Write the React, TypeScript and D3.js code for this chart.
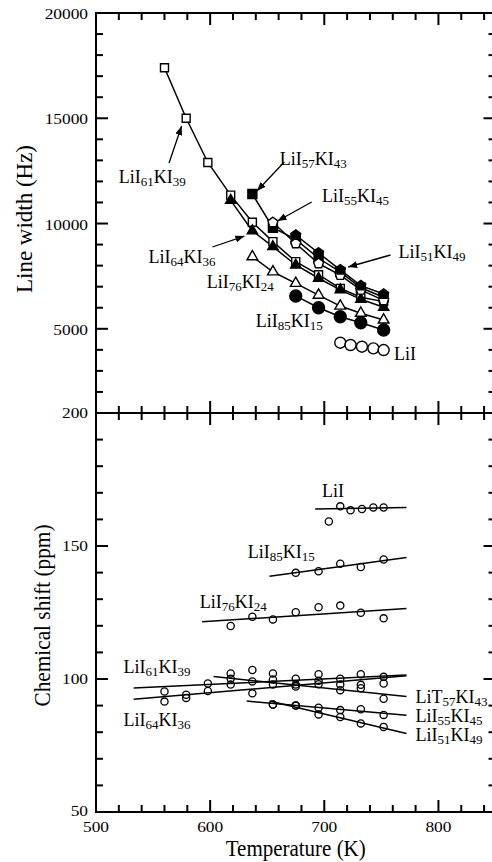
import React from 'react';
import * as d3 from 'd3';

const W = 492;
const H = 862;

// temperatures (K)
const temps = [560, 579, 598, 618, 637, 655, 675, 695, 714, 732, 752];
const tLiI = [714, 723, 733, 743, 752];
const tLiIcs = [704, 714, 723, 733, 743, 752];

// line width (Hz)
const lwLiI61KI39 = [17400, 15000, 12900, 11350, 10060, 9140, 8190, 7570, 6920, 6500, 6290];
const lwLiI64KI36 = [11100, 9650, 8900, 8030, 7400, 6850, 6400, 6020];
const lwLiI57KI43 = [11400, 9800, 9250, 8350, 7700, 6950, 6500];
const lwLiI55KI45 = [10050, 9050, 8100, 7550, 6850, 6350];
const lwLiI51KI49 = [9450, 8600, 7800, 7050, 6650];
const lwLiI76KI24 = [8425, 7710, 7160, 6600, 6080, 5740, 5420];
const lwLiI85KI15 = [6560, 6000, 5570, 5290, 4940];
const lwLiI = [4340, 4230, 4150, 4070, 3990];

// chemical shift (ppm)
const csLiI = [159.2, 164.9, 163.4, 163.9, 164.5, 164.5];
const csLiI85KI15 = [139.9, 140.5, 143.3, 142.1, 144.9];
const csLiI76KI24 = [119.9, 123.4, 122.4, 125.1, 127.0, 127.6, 124.9, 122.8];
const csLiI61KI39 = [95.3, 94.1, 98.3, 97.9, 99.1, 97.9, 97.9, 99.3, 100.1, 101.8, 100.8];
const csLiI64KI36 = [91.5, 92.9, 95.5, 100.1, 94.6, 99.8, 97.2, 98.0, 97.9, 97.8, 98.3];
const csLiT57KI43 = [102.1, 103.4, 102.1, 100.1, 101.8, 95.8, 96.5, 92.6];
const csLiI55KI45 = [90.4, 90.0, 89.2, 88.3, 88.6, 86.5];
const csLiI51KI49 = [90.4, 90.0, 86.7, 85.7, 83.3, 82.0];

// fitted straight lines: [start, end]
const fitLiI = { t: [692, 772], v: [163.9, 164.5] };
const fitLiI85KI15 = { t: [652, 772], v: [138.6, 145.7] };
const fitLiI76KI24 = { t: [593, 772], v: [121.5, 126.5] };
const fitLiI61KI39 = { t: [533, 772], v: [96.6, 101.5] };
const fitLiI64KI36 = { t: [533, 772], v: [92.4, 101.2] };
const fitLiT57KI43 = { t: [603, 772], v: [100.9, 93.4] };
const fitLiI55KI45 = { t: [632, 772], v: [91.7, 86.4] };
const fitLiI51KI49 = { t: [652, 772], v: [91.7, 79.5] };

// tick labels
const xTickLabels = [500, 600, 700, 800];
const lwTickLabels = [5000, 10000, 15000, 20000];
const csTickLabels = [50, 100, 150, 200];

// annotations, top panel
const lwLabels = ['LiI61KI39', 'LiI57KI43', 'LiI55KI45', 'LiI64KI36', 'LiI51KI49', 'LiI76KI24', 'LiI85KI15', 'LiI'];
const lwLabelT = [520, 661, 698, 546, 765, 597, 640, 761];
const lwLabelV = [11925, 12780, 11020, 8125, 8360, 6940, 5085, 3520];
const arrowFromT = [564, 665, 689, 602, 758];
const arrowFromV = [12875, 12920, 11020, 8885, 8505];
const arrowToT = [575, 641, 659, 630, 721];
const arrowToV = [14630, 11545, 10120, 9407, 7935];

// annotations, bottom panel
const csLabels = ['LiI', 'LiI85KI15', 'LiI76KI24', 'LiI61KI39', 'LiI64KI36', 'LiT57KI43', 'LiI55KI45', 'LiI51KI49'];
const csLabelT = [698, 633, 591, 524, 524, 780, 780, 780];
const csLabelV = [168.4, 145.5, 126.7, 102.3, 82.4, 91.0, 83.8, 76.7];

const FONT = 'Liberation Serif, Times New Roman, serif';

const symbolPentagon = {
  draw(ctx: any, size: number) {
    const r = Math.sqrt(size) * 0.62;
    for (let k = 0; k < 5; k++) {
      const a = -Math.PI / 2 + (k * 2 * Math.PI) / 5;
      const px = r * Math.cos(a);
      const py = r * Math.sin(a);
      if (k === 0) ctx.moveTo(px, py);
      else ctx.lineTo(px, py);
    }
    ctx.closePath();
  },
};

const x = d3.scaleLinear().domain([500, 850]).range([96, 495.5]);
const yLw = d3.scaleLinear().domain([1000, 20000]).range([413, 13]);
const yCs = d3.scaleLinear().domain([50, 200]).range([812, 413]);

const Chem = ({ s, x0, y0, size = 18 }: { s: string; x0: number; y0: number; size?: number }) => {
  const parts = Array.from(s.matchAll(/([A-Za-z]+)(\d*)/g));
  const sub = Math.round(size * 0.7);
  return (
    <text x={x0} y={y0} style={{ fontFamily: FONT }} fontSize={size} fill="#000">
      {parts.map((p, i) => (
        <React.Fragment key={i}>
          <tspan dy={i > 0 && parts[i - 1][2] ? -3 : 0}>{p[1]}</tspan>
          {p[2] ? (
            <tspan fontSize={sub} dy={3}>{p[2]}</tspan>
          ) : null}
        </React.Fragment>
      ))}
    </text>
  );
};

type Series = { t: number[]; v: number[]; sym: any; size: number; filled: boolean; line: boolean };

export default function App() {
  const lwSeries: Series[] = [
    { t: temps, v: lwLiI61KI39, sym: d3.symbolSquare, size: 64, filled: false, line: true },
    { t: temps.slice(3), v: lwLiI64KI36, sym: d3.symbolTriangle, size: 46, filled: true, line: true },
    { t: temps.slice(4), v: lwLiI57KI43, sym: d3.symbolSquare, size: 81, filled: true, line: true },
    { t: temps.slice(5), v: lwLiI55KI45, sym: symbolPentagon, size: 72, filled: false, line: true },
    { t: temps.slice(6), v: lwLiI51KI49, sym: symbolPentagon, size: 72, filled: true, line: true },
    { t: temps.slice(4), v: lwLiI76KI24, sym: d3.symbolTriangle, size: 50, filled: false, line: true },
    { t: temps.slice(6), v: lwLiI85KI15, sym: d3.symbolCircle, size: 113, filled: true, line: true },
    { t: tLiI, v: lwLiI, sym: d3.symbolCircle, size: 95, filled: false, line: false },
  ];

  const csPoints = [
    { t: tLiIcs, v: csLiI },
    { t: temps.slice(6), v: csLiI85KI15 },
    { t: temps.slice(3), v: csLiI76KI24 },
    { t: temps, v: csLiI61KI39 },
    { t: temps, v: csLiI64KI36 },
    { t: temps.slice(3), v: csLiT57KI43 },
    { t: temps.slice(5), v: csLiI55KI45 },
    { t: temps.slice(5), v: csLiI51KI49 },
  ];
  const csFits = [fitLiI, fitLiI85KI15, fitLiI76KI24, fitLiI61KI39, fitLiI64KI36, fitLiT57KI43, fitLiI55KI45, fitLiI51KI49];

  const lwLine = d3.line<[number, number]>().x((d) => x(d[0])).y((d) => yLw(d[1]));
  const csLine = d3.line<[number, number]>().x((d) => x(d[0])).y((d) => yCs(d[1]));

  const xTicks = x.ticks(18);
  const lwTicks = yLw.ticks(19);
  const csTicks = yCs.ticks(15);
  const [x0, x1] = x.range();
  const top = yLw.range()[1];
  const mid = yLw.range()[0];
  const bot = yCs.range()[0];

  const tickLines: JSX.Element[] = [];
  const major = 12;
  const minor = 7;
  xTicks.forEach((t, i) => {
    const L = t % 100 === 0 ? major : minor;
    const px = x(t);
    tickLines.push(<line key={'xt' + i} x1={px} x2={px} y1={top} y2={top + L} />);
    tickLines.push(<line key={'xm1' + i} x1={px} x2={px} y1={mid} y2={mid - L} />);
    tickLines.push(<line key={'xm2' + i} x1={px} x2={px} y1={mid} y2={mid + L} />);
    tickLines.push(<line key={'xb' + i} x1={px} x2={px} y1={bot} y2={bot - L} />);
  });
  lwTicks.forEach((v, i) => {
    const L = v % 5000 === 0 ? major : minor;
    const py = yLw(v);
    tickLines.push(<line key={'ly' + i} x1={x0} x2={x0 + L} y1={py} y2={py} />);
    tickLines.push(<line key={'ry' + i} x1={x1} x2={x1 - L} y1={py} y2={py} />);
  });
  csTicks.forEach((v, i) => {
    const L = v % 50 === 0 ? major : minor;
    const py = yCs(v);
    tickLines.push(<line key={'lc' + i} x1={x0} x2={x0 + L} y1={py} y2={py} />);
    tickLines.push(<line key={'rc' + i} x1={x1} x2={x1 - L} y1={py} y2={py} />);
  });

  const tickText = (key: string, px: number, py: number, label: number, anchor: string) => (
    <text
      key={key}
      transform={`translate(${px},${py}) scale(1.12,1)`}
      textAnchor={anchor}
      dominantBaseline="central"
      style={{ fontFamily: FONT }}
      fontSize={15.5}
    >
      {label}
    </text>
  );

  return (
    <svg width={W} height={H} style={{ position: 'absolute', left: 0, top: 0, background: '#fff' }}>
      <defs>
        <marker id="arr" markerUnits="userSpaceOnUse" markerWidth={10} markerHeight={8} refX={9} refY={4} orient="auto">
          <path d="M0,0.5 L9,4 L0,7.5 Z" fill="#000" />
        </marker>
      </defs>
      <rect x={0} y={0} width={W} height={H} fill="#fff" />

      {/* top panel: line width */}
      {lwSeries.map((s, i) =>
        s.line ? (
          <path
            key={'lws' + i}
            d={lwLine(s.t.map((t, j) => [t, s.v[j]]) as [number, number][]) || ''}
            fill="none"
            stroke="#000"
            strokeWidth={1.5}
          />
        ) : null
      )}
      {lwSeries.map((s, i) => (
        <g key={'lwm' + i}>
          {s.t.map((t, j) => (
            <path
              key={j}
              transform={`translate(${x(t)},${yLw(s.v[j])})`}
              d={d3.symbol(s.sym, s.size)() || ''}
              fill={s.filled ? '#000' : '#fff'}
              stroke="#000"
              strokeWidth={1.4}
            />
          ))}
        </g>
      ))}
      {arrowFromT.map((t, i) => (
        <line
          key={'ar' + i}
          x1={x(t)}
          y1={yLw(arrowFromV[i])}
          x2={x(arrowToT[i])}
          y2={yLw(arrowToV[i])}
          stroke="#000"
          strokeWidth={1.3}
          markerEnd="url(#arr)"
        />
      ))}
      {lwLabels.map((s, i) => (
        <Chem key={'lwl' + i} s={s} x0={x(lwLabelT[i])} y0={yLw(lwLabelV[i])} />
      ))}

      {/* bottom panel: chemical shift */}
      {csFits.map((f, i) => (
        <path
          key={'fit' + i}
          d={csLine(f.t.map((t, j) => [t, f.v[j]]) as [number, number][]) || ''}
          fill="none"
          stroke="#000"
          strokeWidth={1.5}
        />
      ))}
      {csPoints.map((s, i) => (
        <g key={'csm' + i}>
          {s.t.map((t, j) => (
            <circle key={j} cx={x(t)} cy={yCs(s.v[j])} r={3.6} fill="none" stroke="#000" strokeWidth={1.3} />
          ))}
        </g>
      ))}
      {csLabels.map((s, i) => (
        <Chem key={'csl' + i} s={s} x0={x(csLabelT[i])} y0={yCs(csLabelV[i])} />
      ))}

      {/* frames and ticks */}
      <g stroke="#000" strokeWidth={2} fill="none">
        <rect x={x0} y={top} width={x1 - x0} height={mid - top} />
        <rect x={x0} y={mid} width={x1 - x0} height={bot - mid} />
        {tickLines}
      </g>

      {/* tick labels */}
      {xTickLabels.map((t, i) => tickText('xl' + i, x(t), bot + 15, t, 'middle'))}
      {lwTickLabels.map((v, i) => tickText('lwl' + i, x0 - 8, yLw(v) + 1, v, 'end'))}
      {csTickLabels.map((v, i) => tickText('csl' + i, x0 - 8, yCs(v) - (v === 50 ? 1 : 0), v, 'end'))}

      {/* axis titles */}
      <text
        x={(x0 + x1) / 2}
        y={856}
        textAnchor="middle"
        style={{ fontFamily: FONT }}
        fontSize={24}
        textLength={140}
        lengthAdjust="spacingAndGlyphs"
      >
        Temperature (K)
      </text>
      <text
        transform={`translate(32,${(top + mid) / 2 + 6}) rotate(-90)`}
        textAnchor="middle"
        style={{ fontFamily: FONT }}
        fontSize={24}
        textLength={148}
        lengthAdjust="spacingAndGlyphs"
      >
        Line width (Hz)
      </text>
      <text
        transform={`translate(50,${(mid + bot) / 2 + 3}) rotate(-90)`}
        textAnchor="middle"
        style={{ fontFamily: FONT }}
        fontSize={24}
        textLength={182}
        lengthAdjust="spacingAndGlyphs"
      >
        Chemical shift (ppm)
      </text>
    </svg>
  );
}
